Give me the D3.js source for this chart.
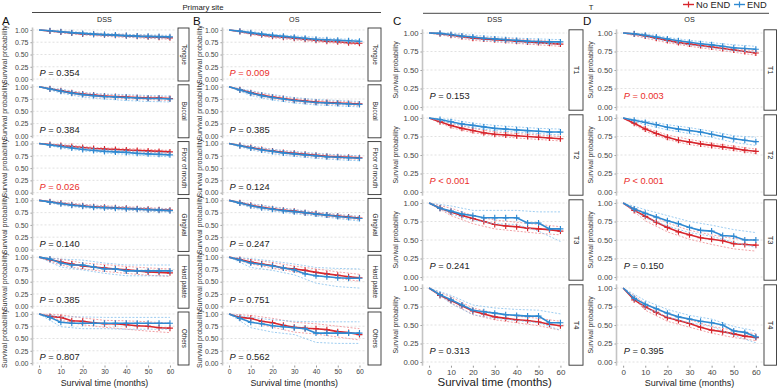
<!DOCTYPE html>
<html lang="en">
<head>
<meta charset="UTF-8">
<title>Survival by END</title>
<script src="https://cdnjs.cloudflare.com/ajax/libs/d3/7.8.5/d3.min.js"></script>
<style>
  body { margin: 0; background: #fff; }
  svg text { font-family: "Liberation Sans", Arial, sans-serif; }
</style>
</head>
<body>
<div id="chart"></div>
<script>
// time grids
const months = [0, 5, 10, 15, 20, 25, 30, 35, 40, 45, 50, 55, 60];
const ciMonths = [0, 10, 20, 30, 40, 50, 60];
const xTicks = [0, 10, 20, 30, 40, 50, 60];
const yTicks = [0, 0.25, 0.5, 0.75, 1];

const groups = ["No END", "END"];
const siteFacets = ["Tongue", "Buccal", "Floor of mouth", "Gingival", "Hard palate", "Others"];
const tFacets = ["T1", "T2", "T3", "T4"];

// P values (label, significant?)
const siteDssP = ["0.354", "0.384", "0.026", "0.140", "0.385", "0.807"];
const siteOsP = ["0.009", "0.385", "0.124", "0.247", "0.751", "0.562"];
const tDssP = ["0.153", "< 0.001", "0.241", "0.313"];
const tOsP = ["0.003", "< 0.001", "0.150", "0.395"];
const siteDssSig = [false, false, true, false, false, false];
const siteOsSig = [true, false, false, false, false, false];
const tDssSig = [false, true, false, false];
const tOsSig = [true, true, false, false];

// survival at each of `months`
const siteDssNoEnd = [
  [1, .98, .96, .94, .92, .91, .90, .89, .88, .87, .86, .85, .84],
  [1, .96, .92, .88, .85, .83, .81, .80, .79, .78, .77, .77, .76],
  [1, .98, .96, .94, .92, .90, .89, .88, .87, .86, .85, .84, .83],
  [1, .97, .94, .91, .89, .87, .86, .85, .84, .83, .82, .81, .80],
  [1, .95, .90, .86, .82, .80, .78, .76, .74, .72, .70, .69, .68],
  [1, .95, .93, .86, .85, .82, .80, .80, .78, .76, .75, .72, .71]
];
const siteDssEnd = [
  [1, .985, .965, .945, .93, .915, .905, .895, .885, .875, .87, .865, .86],
  [1, .955, .91, .87, .84, .82, .80, .79, .78, .77, .76, .76, .75],
  [1, .97, .94, .91, .88, .86, .84, .83, .82, .80, .79, .78, .77],
  [1, .965, .93, .90, .88, .86, .85, .84, .83, .82, .81, .80, .79],
  [1, .96, .88, .84, .84, .80, .76, .76, .72, .72, .72, .72, .72],
  [1, .93, .83, .81, .81, .81, .81, .81, .81, .81, .81, .81, .81]
];
const siteOsNoEnd = [
  [1, .97, .93, .90, .87, .85, .83, .81, .79, .77, .76, .74, .73],
  [1, .94, .88, .83, .79, .76, .73, .71, .69, .68, .67, .66, .65],
  [1, .96, .92, .88, .85, .82, .80, .78, .76, .74, .73, .72, .71],
  [1, .95, .90, .86, .83, .80, .78, .75, .73, .70, .68, .66, .64],
  [1, .95, .90, .86, .83, .78, .76, .73, .69, .66, .63, .60, .58],
  [1, .93, .91, .85, .82, .77, .73, .71, .70, .68, .64, .62, .58]
];
const siteOsEnd = [
  [1, .975, .945, .915, .89, .87, .85, .83, .81, .80, .79, .78, .77],
  [1, .935, .87, .82, .78, .75, .72, .70, .68, .67, .66, .65, .64],
  [1, .955, .91, .87, .84, .81, .79, .77, .75, .73, .72, .71, .70],
  [1, .945, .89, .85, .82, .79, .77, .75, .72, .70, .67, .65, .63],
  [1, .94, .88, .85, .82, .78, .74, .66, .62, .60, .58, .57, .57],
  [1, .91, .83, .80, .76, .74, .72, .70, .61, .61, .61, .61, .61]
];
const tDssNoEnd = [
  [1, .99, .97, .95, .93, .92, .91, .90, .89, .88, .87, .86, .85],
  [1, .95, .90, .86, .83, .80, .78, .77, .76, .75, .74, .73, .72],
  [1, .93, .88, .83, .79, .75, .71, .69, .68, .66, .65, .64, .62],
  [1, .90, .83, .76, .69, .65, .61, .59, .57, .56, .54, .51, .49]
];
const tDssEnd = [
  [1, .995, .98, .96, .945, .93, .92, .91, .90, .89, .885, .88, .88],
  [1, .98, .95, .92, .90, .88, .86, .85, .84, .83, .82, .81, .81],
  [1, .93, .89, .85, .83, .80, .80, .80, .80, .73, .73, .65, .65],
  [1, .91, .84, .77, .70, .68, .66, .64, .63, .62, .62, .53, .53]
];
const tOsNoEnd = [
  [1, .985, .96, .93, .90, .87, .85, .83, .81, .79, .77, .75, .73],
  [1, .93, .85, .79, .74, .70, .675, .65, .63, .61, .59, .565, .55],
  [1, .90, .82, .74, .67, .61, .57, .53, .51, .49, .45, .44, .43],
  [1, .84, .745, .67, .60, .56, .52, .47, .43, .41, .38, .35, .33]
];
const tOsEnd = [
  [1, .99, .97, .945, .92, .895, .875, .855, .84, .82, .80, .79, .78],
  [1, .97, .94, .91, .875, .85, .83, .81, .78, .75, .72, .70, .68],
  [1, .92, .86, .81, .76, .72, .67, .63, .62, .56, .55, .50, .50],
  [1, .86, .78, .72, .66, .61, .58, .55, .53, .50, .42, .40, .34]
];

// 95% CI bounds at each of `ciMonths`
const siteDssNoEndLo = [[1,.94,.90,.87,.85,.83,.81],[1,.89,.82,.78,.76,.74,.72],[1,.94,.90,.86,.84,.82,.80],[1,.91,.86,.83,.81,.79,.77],[1,.84,.76,.71,.67,.63,.61],[1,.87,.78,.73,.69,.65,.62]];
const siteDssNoEndHi = [[1,.97,.94,.92,.91,.89,.87],[1,.94,.88,.84,.82,.80,.79],[1,.98,.94,.91,.90,.88,.86],[1,.96,.92,.89,.87,.85,.83],[1,.96,.88,.85,.81,.78,.76],[1,.98,.92,.87,.86,.84,.81]];
const siteDssEndLo = [[1,.95,.91,.88,.86,.84,.83],[1,.87,.79,.75,.72,.70,.69],[1,.91,.85,.81,.78,.75,.73],[1,.90,.85,.82,.80,.78,.76],[1,.80,.74,.67,.62,.62,.62],[1,.74,.70,.70,.69,.69,.69]];
const siteDssEndHi = [[1,.98,.95,.93,.91,.90,.89],[1,.95,.88,.85,.84,.82,.81],[1,.97,.91,.87,.85,.83,.81],[1,.96,.91,.88,.86,.84,.82],[1,.96,.94,.88,.84,.84,.84],[1,.94,.94,.93,.93,.93,.93]];
const siteOsNoEndLo = [[1,.91,.84,.80,.76,.73,.70],[1,.85,.76,.70,.66,.64,.62],[1,.89,.82,.77,.73,.70,.68],[1,.87,.80,.75,.70,.65,.61],[1,.86,.78,.70,.63,.57,.51],[1,.84,.73,.63,.59,.53,.47]];
const siteOsNoEndHi = [[1,.95,.89,.85,.82,.79,.76],[1,.91,.82,.76,.72,.70,.68],[1,.95,.88,.83,.79,.76,.74],[1,.93,.86,.81,.76,.71,.67],[1,.95,.89,.82,.76,.70,.65],[1,.97,.91,.83,.80,.75,.70]];
const siteOsEndLo = [[1,.92,.86,.82,.79,.76,.74],[1,.82,.73,.67,.63,.61,.59],[1,.87,.79,.74,.70,.67,.65],[1,.85,.78,.73,.68,.63,.58],[1,.79,.73,.64,.47,.40,.37],[1,.72,.63,.58,.42,.40,.40]];
const siteOsEndHi = [[1,.97,.91,.88,.85,.82,.80],[1,.92,.84,.78,.74,.72,.70],[1,.95,.88,.84,.80,.77,.75],[1,.93,.87,.81,.76,.71,.67],[1,.97,.92,.86,.79,.77,.76],[1,.93,.88,.85,.84,.84,.84]];
const tDssNoEndLo = [[1,.95,.90,.88,.86,.84,.82],[1,.87,.80,.76,.73,.71,.69],[1,.83,.72,.65,.62,.59,.57],[1,.80,.64,.57,.53,.49,.43]];
const tDssNoEndHi = [[1,.99,.95,.93,.92,.90,.88],[1,.93,.86,.81,.79,.77,.75],[1,.93,.83,.77,.74,.71,.68],[1,.88,.73,.66,.62,.59,.55]];
const tDssEndLo = [[1,.96,.92,.89,.87,.86,.85],[1,.93,.87,.83,.81,.79,.77],[1,.85,.77,.72,.71,.62,.48],[1,.79,.64,.59,.56,.53,.43]];
const tDssEndHi = [[1,1,.97,.95,.93,.92,.91],[1,.98,.93,.90,.88,.86,.85],[1,.96,.90,.90,.90,.88,.88],[1,.90,.77,.73,.71,.70,.65]];
const tOsNoEndLo = [[1,.93,.87,.82,.78,.74,.70],[1,.82,.71,.64,.60,.56,.52],[1,.76,.61,.51,.44,.38,.35],[1,.70,.55,.47,.39,.33,.29]];
const tOsNoEndHi = [[1,.98,.92,.87,.83,.79,.76],[1,.87,.77,.71,.66,.62,.58],[1,.87,.73,.63,.57,.52,.50],[1,.79,.65,.57,.48,.43,.38]];
const tOsEndLo = [[1,.95,.89,.84,.80,.76,.74],[1,.91,.84,.79,.74,.67,.63],[1,.80,.69,.60,.55,.47,.40],[1,.73,.61,.53,.48,.36,.26]];
const tOsEndHi = [[1,.99,.94,.90,.87,.84,.82],[1,.96,.91,.87,.82,.76,.74],[1,.91,.83,.75,.70,.64,.60],[1,.83,.71,.63,.58,.48,.42]];

const W = 777, H = 389;
const RED = "#d7262d", BLUE = "#2f8ad2";
const RED_CI = "#ee8c90", BLUE_CI = "#86c0ec";
const PRED = "#ea2e2a";

const svg = d3.select("#chart").append("svg")
  .attr("width", W).attr("height", H);

const panels = [
  { letter: "A", letterX: 2, title: "DSS", facets: siteFacets, p: siteDssP, sig: siteDssSig,
    red: siteDssNoEnd, blue: siteDssEnd, redLo: siteDssNoEndLo, redHi: siteDssNoEndHi, blueLo: siteDssEndLo, blueHi: siteDssEndHi,
    x0: 32.5, x1: 176.5, stripX: 178, stripW: 11, top: 27.5, step: 56.8, h: 54,
    yTitleX: 5, yTitleSize: 7, tickSize: 7, stripSize: 6.3, xTickSize: 6.8, xTitleSize: 8.8, pSize: 9.3, pY: 0.06 },
  { letter: "B", letterX: 193, title: "OS", facets: siteFacets, p: siteOsP, sig: siteOsSig,
    red: siteOsNoEnd, blue: siteOsEnd, redLo: siteOsNoEndLo, redHi: siteOsNoEndHi, blueLo: siteOsEndLo, blueHi: siteOsEndHi,
    x0: 222.5, x1: 366, stripX: 368, stripW: 13, top: 27.5, step: 56.8, h: 54,
    yTitleX: 200.5, yTitleSize: 7, tickSize: 7, stripSize: 6.3, xTickSize: 6.8, xTitleSize: 8.8, pSize: 9.3, pY: 0.06 },
  { letter: "C", letterX: 393, title: "DSS", facets: tFacets, p: tDssP, sig: tDssSig,
    red: tDssNoEnd, blue: tDssEnd, redLo: tDssNoEndLo, redHi: tDssNoEndHi, blueLo: tDssEndLo, blueHi: tDssEndHi,
    x0: 422.5, x1: 567, stripX: 569, stripW: 14, top: 29.3, step: 85, h: 81.4,
    yTitleX: 396, yTitleSize: 6.8, tickSize: 7.7, stripSize: 7.5, xTickSize: 8, xTitleSize: 11.5, pSize: 9.3, pY: 0.11 },
  { letter: "D", letterX: 583, title: "OS", facets: tFacets, p: tOsP, sig: tOsSig,
    red: tOsNoEnd, blue: tOsEnd, redLo: tOsNoEndLo, redHi: tOsNoEndHi, blueLo: tOsEndLo, blueHi: tOsEndHi,
    x0: 616.5, x1: 762.5, stripX: 764, stripW: 12.5, top: 29.3, step: 85, h: 81.4,
    yTitleX: 591, yTitleSize: 6.8, tickSize: 7.7, stripSize: 7.5, xTickSize: 8, xTitleSize: 9, pSize: 9.3, pY: 0.11 }
];

function plus(px, py, r) {
  return `M${px - r},${py}H${px + r}M${px},${py - r}V${py + r}`;
}

function drawCurve(g, x, y, surv, lo, hi, color, ciColor) {
  const ci = d3.line().x((v, i) => x(ciMonths[i])).y(v => y(v));
  [lo, hi].forEach(arr => {
    g.append("path").attr("d", ci(arr))
      .attr("fill", "none").attr("stroke", ciColor)
      .attr("stroke-width", 0.8).attr("stroke-dasharray", "2,1.6");
  });
  const line = d3.line().x((v, i) => x(months[i])).y(v => y(v));
  g.append("path").attr("d", line(surv))
    .attr("fill", "none").attr("stroke", color).attr("stroke-width", 1.6);
  g.append("path")
    .attr("d", surv.map((v, i) => i === 0 ? "" : plus(x(months[i]), y(v), 3)).join(""))
    .attr("fill", "none").attr("stroke", color).attr("stroke-width", 1.15);
}

function drawPanel(p) {
  const x = d3.scaleLinear().domain([-3, 63]).range([p.x0, p.x1]);
  const g = svg.append("g");
  const n = p.facets.length;

  g.append("text").attr("x", p.letterX).attr("y", 24.5)
    .attr("font-size", 11.5).attr("fill", "#111").text(p.letter);
  g.append("text").attr("x", x(30)).attr("y", 22)
    .attr("text-anchor", "middle").attr("font-size", 7.2).attr("fill", "#222").text(p.title);

  p.facets.forEach((name, i) => {
    const top = p.top + i * p.step;
    const y = d3.scaleLinear().domain([-0.05, 1.05]).range([top + p.h, top]);
    const fg = g.append("g");

    yTicks.forEach(v => {
      fg.append("line").attr("x1", p.x0).attr("x2", p.x1)
        .attr("y1", y(v)).attr("y2", y(v))
        .attr("stroke", "#d4d4d4").attr("stroke-width", 0.7).attr("stroke-dasharray", "2,2");
    });

    const ax = fg.append("g").attr("transform", `translate(${p.x0},0)`)
      .call(d3.axisLeft(y).tickValues(yTicks).tickFormat(d3.format(".2f")).tickSize(2).tickPadding(2));
    ax.select(".domain").remove();
    ax.selectAll(".tick line").attr("stroke", "#999");
    ax.selectAll(".tick text").attr("font-size", p.tickSize).attr("fill", "#444")
      .attr("font-family", "Liberation Sans, Arial, sans-serif");

    fg.append("line").attr("x1", p.x0).attr("x2", p.x0)
      .attr("y1", top).attr("y2", top + p.h)
      .attr("stroke", "#c4c4c4").attr("stroke-width", 1.6);

    fg.append("text")
      .attr("transform", `translate(${p.yTitleX},${top + p.h / 2}) rotate(-90)`)
      .attr("text-anchor", "middle").attr("dominant-baseline", "middle")
      .attr("font-size", p.yTitleSize).attr("fill", "#333").text("Survival probability");

    // strip
    fg.append("rect").attr("x", p.stripX).attr("y", top + 0.5)
      .attr("width", p.stripW).attr("height", p.h - 1)
      .attr("fill", "#fff").attr("stroke", "#333").attr("stroke-width", 0.9);
    fg.append("text")
      .attr("transform", `translate(${p.stripX + p.stripW / 2},${top + p.h / 2}) rotate(90)`)
      .attr("text-anchor", "middle").attr("dominant-baseline", "middle")
      .attr("font-size", p.stripSize).attr("fill", "#222").text(name);

    drawCurve(fg, x, y, p.red[i], p.redLo[i], p.redHi[i], RED, RED_CI);
    drawCurve(fg, x, y, p.blue[i], p.blueLo[i], p.blueHi[i], BLUE, BLUE_CI);

    const pt = fg.append("text").attr("x", x(0) + 0.5).attr("y", y(p.pY))
      .attr("font-size", p.pSize).attr("fill", p.sig[i] ? PRED : "#222");
    pt.append("tspan").attr("font-style", "italic").text("P");
    pt.append("tspan").text(p.p[i].startsWith("<") ? " " + p.p[i] : " = " + p.p[i]);

    if (i === n - 1) {
      const xa = fg.append("g").attr("transform", `translate(0,${top + p.h})`)
        .call(d3.axisBottom(x).tickValues(xTicks).tickSize(2).tickPadding(2));
      xa.select(".domain").remove();
      xa.selectAll(".tick line").attr("stroke", "#999");
      xa.selectAll(".tick text").attr("font-size", p.xTickSize).attr("fill", "#444")
        .attr("font-family", "Liberation Sans, Arial, sans-serif");
      fg.append("text").attr("x", x(30)).attr("y", 386)
        .attr("text-anchor", "middle").attr("font-size", p.xTitleSize).attr("fill", "#222")
        .text("Survival time (months)");
    }
  });
}

panels.forEach(drawPanel);

// spanning headers
svg.append("line").attr("x1", 32).attr("x2", 381).attr("y1", 12.5).attr("y2", 12.5)
  .attr("stroke", "#333").attr("stroke-width", 0.9);
svg.append("text").attr("x", 203).attr("y", 9.5).attr("text-anchor", "middle")
  .attr("font-size", 7.8).attr("fill", "#222").text("Primary site");
svg.append("line").attr("x1", 423).attr("x2", 769).attr("y1", 13.3).attr("y2", 13.3)
  .attr("stroke", "#333").attr("stroke-width", 0.9);
svg.append("text").attr("x", 591).attr("y", 10).attr("text-anchor", "middle")
  .attr("font-size", 7.6).attr("fill", "#222").text("T");

// legend
const legendX = [683, 734];
groups.forEach((gname, i) => {
  const c = i === 0 ? RED : BLUE;
  const lx = legendX[i];
  svg.append("line").attr("x1", lx).attr("x2", lx + 11).attr("y1", 4.5).attr("y2", 4.5)
    .attr("stroke", c).attr("stroke-width", 1.4);
  svg.append("path").attr("d", plus(lx + 5.5, 4.5, 3)).attr("stroke", c).attr("stroke-width", 1.2);
  svg.append("text").attr("x", lx + 13).attr("y", 7.8)
    .attr("font-size", 9.3).attr("fill", "#222").text(gname);
});
</script>
</body>
</html>
